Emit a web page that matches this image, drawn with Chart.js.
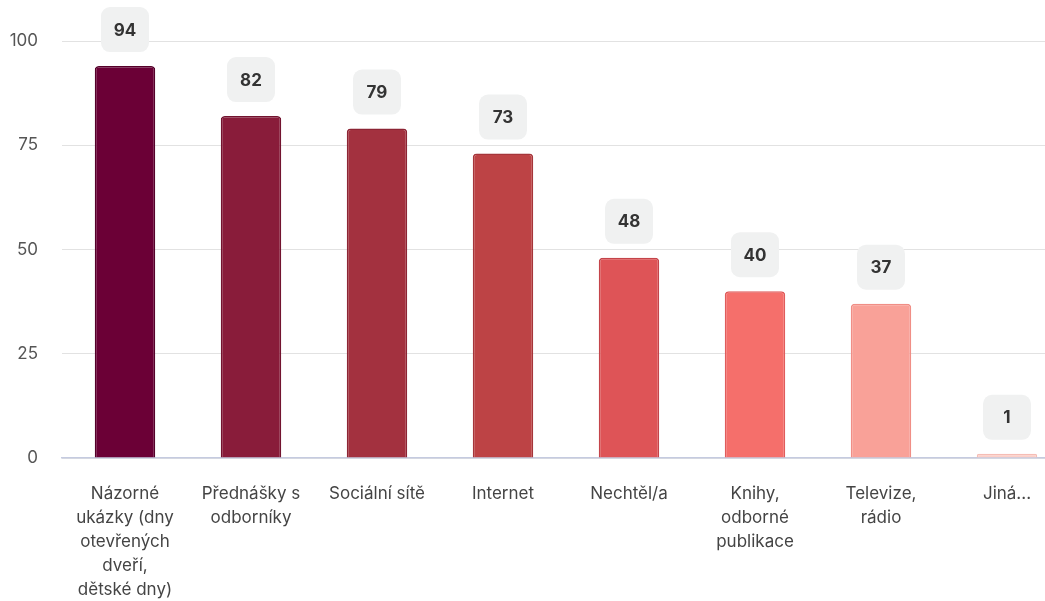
<!DOCTYPE html>
<html>
<head>
<meta charset="utf-8">
<script src="https://cdn.jsdelivr.net/npm/chart.js@4"></script>
<style>
  html, body { margin: 0; padding: 0; background: #fff; overflow: hidden; }
  #wrap { width: 1070px; height: 601px; }
</style>
</head>
<body>
<div id="wrap"><canvas id="chart"></canvas></div>
<script>
const categories = [
  ["Názorné", "ukázky (dny", "otevřených", "dveří,", "dětské dny)"],
  ["Přednášky s", "odborníky"],
  ["Sociální sítě"],
  ["Internet"],
  ["Nechtěl/a"],
  ["Knihy,", "odborné", "publikace"],
  ["Televize,", "rádio"],
  ["Jiná..."]
];
const values = [94, 82, 79, 73, 48, 40, 37, 1];
const barColors = ["#6b0036", "#891c3a", "#a3313f", "#bd4345", "#de5457", "#f56f6b", "#f9a198", "#fdd0c8"];
const borderColors = ["#55002a", "#72132f", "#8c2434", "#a5353a", "#c4444a", "#e05c5c", "#f08e86", "#f5bdb5"];
const yTicks = [0, 25, 50, 75, 100];

const FONT = "Inter, 'Noto Sans', sans-serif";

// grey badges with the value above each bar
const badgePlugin = {
  id: "badges",
  afterDatasetsDraw(chart) {
    const ctx = chart.ctx;
    const meta = chart.getDatasetMeta(0);
    ctx.save();
    meta.data.forEach((bar, i) => {
      const w = 48, h = 45;
      const cy = bar.y - 14 - h / 2;
      ctx.fillStyle = "#f0f1f1";
      ctx.beginPath();
      ctx.roundRect(bar.x - w / 2, cy - h / 2, w, h, 9);
      ctx.fill();
      ctx.fillStyle = "#333";
      ctx.font = "bold 17px " + FONT;
      ctx.textAlign = "center";
      ctx.textBaseline = "middle";
      ctx.fillText(String(values[i]), bar.x, cy + 1);
    });
    ctx.restore();
  }
};

new Chart(document.getElementById("chart"), {
  type: "bar",
  data: {
    labels: categories,
    datasets: [{
      data: values,
      backgroundColor: barColors,
      borderColor: borderColors,
      borderWidth: 1.5,
      borderRadius: 4,
      borderSkipped: "bottom",
      barPercentage: 0.6,
      categoryPercentage: 0.8
    }]
  },
  options: {
    responsive: true,
    maintainAspectRatio: false,
    animation: false,
    layout: { padding: { top: 41, left: 6, right: 0, bottom: 0 } },
    plugins: { legend: { display: false }, tooltip: { enabled: false } },
    scales: {
      x: {
        afterFit: (axis) => { axis.height = 143; },
        grid: { display: false, drawTicks: false },
        border: { color: "#c5cbe0", width: 1.5 },
        ticks: {
          color: "#444",
          font: { family: FONT, size: 17, lineHeight: 1.41 },
          padding: 24,
          maxRotation: 0,
          autoSkip: false
        }
      },
      y: {
        min: 0,
        max: 100,
        afterBuildTicks: (axis) => { axis.ticks = yTicks.map(v => ({ value: v })); },
        afterFit: (axis) => { axis.width = 56; },
        grid: { color: "#e2e2e2", drawTicks: false },
        border: { display: false },
        ticks: {
          color: "#555",
          font: { family: FONT, size: 17 },
          padding: 24
        }
      }
    }
  },
  plugins: [badgePlugin]
});
</script>
</body>
</html>
